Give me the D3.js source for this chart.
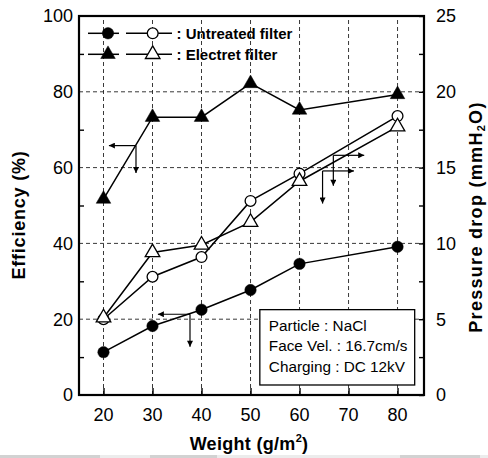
<!DOCTYPE html>
<html><head><meta charset="utf-8">
<script src="https://cdn.jsdelivr.net/npm/d3@7"></script>
<style>
html,body{margin:0;padding:0;background:#fff;}
svg{display:block;font-family:"Liberation Sans",Arial,sans-serif;}
</style></head>
<body><svg id="c" width="488" height="458"></svg>
<script>
// ---- data ----
const weights = [20, 30, 40, 50, 60, 80];
const electretEff = [51.7, 73.3, 73.3, 82.2, 75.2, 79.3];     // % (left axis)
const untreatedEff = [11.3, 18.2, 22.5, 27.7, 34.6, 39.1];    // % (left axis)
const untreatedDP = [5.0, 7.8, 9.1, 12.8, 14.6, 18.4];        // mmH2O (right axis)
const electretDP = [5.1, 9.4, 9.9, 11.4, 14.1, 17.7];         // mmH2O (right axis)
const xTicks = [20, 30, 40, 50, 60, 70, 80];
const leftTicks = [0, 20, 40, 60, 80, 100];
const leftMinor = [10, 30, 50, 70, 90];
const rightTicks = [0, 5, 10, 15, 20, 25];
const rightMinor = [2.5, 7.5, 12.5, 17.5, 22.5];
const legendLabels = [": Untreated filter", ": Electret filter"];
const infoLines = ["Particle : NaCl", "Face Vel. : 16.7cm/s", "Charging : DC 12kV"];

// ---- layout ----
const L = 79, R = 424, T = 16, B = 395;
const svg = d3.select("#c");
const x = d3.scaleLinear().domain([15, 85.4]).range([L, R]);
const yL = d3.scaleLinear().domain([0, 100]).range([B, T]);
const yR = d3.scaleLinear().domain([0, 25]).range([B, T]);

// scan artefact band at bottom
svg.append("rect").attr("x",0).attr("y",455).attr("width",488).attr("height",3).attr("fill","#ececec");
[[0,100],[150,217],[400,480]].forEach(s=>svg.append("rect").attr("x",s[0]).attr("y",455).attr("width",s[1]-s[0]).attr("height",3).attr("fill","#d2d2d2"));

// gridlines
const grid = svg.append("g").attr("stroke","#222").attr("stroke-width",0.9).attr("stroke-dasharray","4,3");
xTicks.forEach(v=>grid.append("line").attr("x1",x(v)).attr("x2",x(v)).attr("y1",B).attr("y2",T));
[20,40,60,80].forEach(v=>grid.append("line").attr("x1",L).attr("x2",R).attr("y1",yL(v)).attr("y2",yL(v)));

// axes (ticks inside)
const ax = svg.append("g").attr("font-size",18);
const xa = ax.append("g").attr("transform",`translate(0,${B})`)
  .call(d3.axisTop(x).tickValues(xTicks).tickSize(7).tickFormat(""));
xa.selectAll("text").remove();
xTicks.forEach(v=>ax.append("text").attr("x",x(v)).attr("y",B+26).attr("text-anchor","middle").text(v));
const la = ax.append("g").attr("transform",`translate(${L},0)`)
  .call(d3.axisRight(yL).tickValues(leftMinor).tickSize(5).tickFormat(""));
leftTicks.forEach(v=>ax.append("text").attr("x",L-6).attr("y",yL(v)).attr("dy","0.36em").attr("text-anchor","end").text(v));
const ra = ax.append("g").attr("transform",`translate(${R},0)`)
  .call(d3.axisLeft(yR).tickValues(rightMinor.concat(rightTicks)).tickSize(5).tickFormat(""));
rightTicks.forEach(v=>ax.append("text").attr("x",R+12).attr("y",yR(v)).attr("dy","0.36em").attr("text-anchor","start").text(v));
[xa,la,ra].forEach(g=>{g.select(".domain").remove(); g.selectAll("line").attr("stroke","#000").attr("stroke-width",1.4);});

// frame
svg.append("rect").attr("x",L).attr("y",T).attr("width",R-L).attr("height",B-T)
  .attr("fill","none").attr("stroke","#000").attr("stroke-width",2.2);

// info box
const bx0 = x(51.9), bx1 = x(83.5), by0 = yR(5.63), by1 = yR(0.66);
svg.append("rect").attr("x",bx0).attr("y",by0).attr("width",bx1-bx0).attr("height",by1-by0)
  .attr("fill","#fff").attr("stroke","#000").attr("stroke-width",1.3);
infoLines.forEach((t,i)=>svg.append("text").attr("x",bx0+9).attr("y",by0+21+i*20.8)
  .attr("font-size",15.3).text(t));

// lines
const pts = (ys, sc) => weights.map((w,i)=>[x(w), sc(ys[i])]);
const line = d3.line();
const series = [
  {v:electretEff, s:yL, m:"tri", open:false},
  {v:untreatedEff, s:yL, m:"circ", open:false},
  {v:untreatedDP, s:yR, m:"circ", open:true},
  {v:electretDP, s:yR, m:"tri", open:true}
];
series.forEach(d=>svg.append("path").attr("d",line(pts(d.v,d.s))).attr("fill","none")
  .attr("stroke","#000").attr("stroke-width",1.5));

// annotation arrows
const defs = svg.append("defs");
defs.append("marker").attr("id","ah").attr("viewBox","0 0 10 10").attr("refX",10).attr("refY",5)
  .attr("markerWidth",9).attr("markerHeight",6).attr("markerUnits","userSpaceOnUse").attr("orient","auto")
  .append("path").attr("d","M0,0L10,5L0,10z").attr("fill","#000");
const arrows = [
  {sc:yL, c:[26.63,65.8], h:21.1, v:58.6},
  {sc:yL, c:[37.65,21.3], h:31.1, v:12.7},
  {sc:yR, c:[66.9,15.81], h:73.2, v:13.8},
  {sc:yR, c:[64.7,14.78], h:71.1, v:12.63}
];
arrows.forEach(a=>{
  const cx = x(a.c[0]), cy = a.sc(a.c[1]);
  svg.append("line").attr("x1",cx).attr("y1",cy).attr("x2",x(a.h)).attr("y2",cy)
    .attr("stroke","#000").attr("stroke-width",1.2).attr("marker-end","url(#ah)");
  svg.append("line").attr("x1",cx).attr("y1",cy).attr("x2",cx).attr("y2",a.sc(a.v))
    .attr("stroke","#000").attr("stroke-width",1.2).attr("marker-end","url(#ah)");
});

// markers
const tri = d3.symbol(d3.symbolTriangle, 92)();
function marker(g, type, open, px, py){
  if(type==="circ") g.append("circle").attr("cx",px).attr("cy",py).attr("r",open?5.4:5.7)
    .attr("fill",open?"#fff":"#000").attr("stroke","#000").attr("stroke-width",open?1.3:0.5);
  else g.append("path").attr("d",tri).attr("transform",`translate(${px},${py})`)
    .attr("fill",open?"#fff":"#000").attr("stroke","#000").attr("stroke-width",open?1.3:0.5);
}
const mg = svg.append("g");
[series[1],series[0],series[2],series[3]].forEach(d=>pts(d.v,d.s).forEach(p=>marker(mg,d.m,d.open,p[0],p[1])));

// legend
const lg = svg.append("g");
[[33.3,"circ"],[54.3,"tri"]].forEach((r,i)=>{
  const ly = r[0];
  lg.append("line").attr("x1",88).attr("x2",119).attr("y1",ly).attr("y2",ly).attr("stroke","#000").attr("stroke-width",1.5);
  lg.append("line").attr("x1",126).attr("x2",172).attr("y1",ly).attr("y2",ly).attr("stroke","#000").attr("stroke-width",1.5);
  marker(lg, r[1], false, 108, ly);
  marker(lg, r[1], true, 152.7, ly);
  lg.append("text").attr("x",176.5).attr("y",ly+5.4).attr("font-size",15).attr("font-weight","bold").text(legendLabels[i]);
});

// axis titles
svg.append("text").attr("x",249).attr("y",450).attr("text-anchor","middle").attr("font-size",18)
  .attr("font-weight","bold").attr("letter-spacing",0.3)
  .call(t=>{t.append("tspan").text("Weight (g/m"); t.append("tspan").attr("font-size",11).attr("dy",-8).text("2");
    t.append("tspan").attr("dy",8).text(")");});
svg.append("text").attr("transform","translate(25,215) rotate(-90)").attr("text-anchor","middle")
  .attr("font-size",18).attr("font-weight","bold").attr("letter-spacing",0.8).text("Efficiency (%)");
svg.append("text").attr("transform","translate(482,217) rotate(-90)").attr("text-anchor","middle")
  .attr("font-size",18).attr("font-weight","bold").attr("letter-spacing",1.3)
  .call(t=>{t.append("tspan").text("Pressure drop (mmH"); t.append("tspan").attr("font-size",11).attr("dy",3).text("2");
    t.append("tspan").attr("dy",-3).text("O)");});
</script></body></html>
